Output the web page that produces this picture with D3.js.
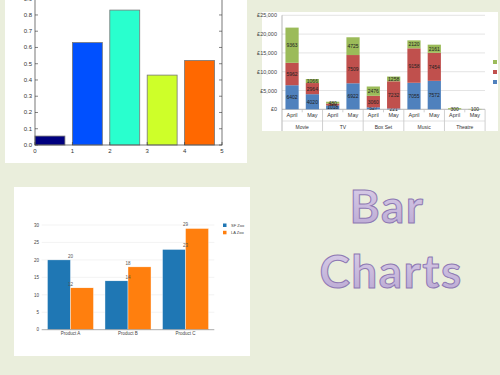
<!DOCTYPE html>
<html>
<head>
<meta charset="utf-8">
<script src="https://cdn.jsdelivr.net/npm/d3@7"></script>
<style>
  body { margin: 0; background: #eaeedc; }
  svg { display: block; font-family: "Liberation Sans", Arial, sans-serif; }
</style>
</head>
<body>
<svg width="500" height="375"></svg>
<script>
// top left: matplotlib style bars
const jetIndex = [0, 1, 2, 3, 4];
const jetValues = [0.055, 0.63, 0.83, 0.43, 0.52];
const jetColors = ['#00007f', '#0050ff', '#29ffce', '#ceff29', '#ff6800'];
const jetYTicks = [0, 0.1, 0.2, 0.3, 0.4, 0.5, 0.6, 0.7, 0.8, 0.9];
const jetXTicks = [0, 1, 2, 3, 4, 5];

// top right: excel stacked bars
const groups = ['Movie', 'TV', 'Box Set', 'Music', 'Theatre'];
const months = ['April', 'May'];
const blueVals = [6402, 4020, 1018, 6922, 527, 221, 7055, 7572, 0, 0];
const redVals = [5962, 2964, 520, 7509, 3060, 7232, 9158, 7454, 0, 0];
const greenVals = [9363, 1066, 480, 4725, 2476, 1258, 2120, 2161, 300, 100];
const poundTicks = [0, 5000, 10000, 15000, 20000, 25000];

// bottom left: plotly grouped bars
const products = ['Product A', 'Product B', 'Product C'];
const zooNames = ['SF Zoo', 'LA Zoo'];
const sfZoo = [20, 14, 23];
const laZoo = [12, 18, 29];
const zooTicks = [0, 5, 10, 15, 20, 25, 30];

const svg = d3.select('svg');

// ---------- panel 1 ----------
svg.append('rect').attr('x', 5).attr('y', 0).attr('width', 242).attr('height', 163).attr('fill', '#fff');
const g1 = svg.append('g');
const x1 = d3.scaleLinear().domain([0, 5]).range([35, 222]);
const y1 = d3.scaleLinear().domain([0, 0.9]).range([145, -1.3]);

g1.selectAll('rect.bar')
    .data(jetValues)
    .enter()
    .append('rect')
    .attr('x', (d, i) => x1(jetIndex[i]))
    .attr('width', x1(0.8) - x1(0))
    .attr('y', d => y1(d))
    .attr('height', d => y1(0) - y1(d))
    .attr('fill', (d, i) => jetColors[i])
    .attr('stroke', '#777')
    .attr('stroke-width', 0.8);

// frame
g1.append('rect')
    .attr('x', x1(0)).attr('y', y1(0.9))
    .attr('width', x1(5) - x1(0)).attr('height', y1(0) - y1(0.9))
    .attr('fill', 'none').attr('stroke', '#555').attr('stroke-width', 0.8);

jetYTicks.forEach(t => {
    g1.append('line').attr('x1', x1(0)).attr('x2', x1(0) + 3).attr('y1', y1(t)).attr('y2', y1(t)).attr('stroke', '#333').attr('stroke-width', 0.6);
    g1.append('line').attr('x1', x1(5)).attr('x2', x1(5) - 3).attr('y1', y1(t)).attr('y2', y1(t)).attr('stroke', '#333').attr('stroke-width', 0.6);
    g1.append('text').attr('x', x1(0) - 3).attr('y', y1(t) + 2)
        .attr('text-anchor', 'end').attr('font-size', 6).attr('fill', '#333')
        .text(t.toFixed(1));
});
jetXTicks.forEach(t => {
    g1.append('line').attr('x1', x1(t)).attr('x2', x1(t)).attr('y1', y1(0)).attr('y2', y1(0) - 3).attr('stroke', '#333').attr('stroke-width', 0.6);
    g1.append('text').attr('x', x1(t)).attr('y', y1(0) + 8)
        .attr('text-anchor', 'middle').attr('font-size', 6).attr('fill', '#333')
        .text(t);
});

// ---------- panel 2 ----------
svg.append('rect').attr('x', 262).attr('y', 12).attr('width', 236).attr('height', 119).attr('fill', '#fff');
const g2 = svg.append('g');
const cats = d3.range(blueVals.length);
const x2 = d3.scaleBand().domain(cats).range([282, 485]).paddingInner(0.35).paddingOuter(0.17);
const y2 = d3.scaleLinear().domain([0, 25000]).range([109.3, 15.3]);

poundTicks.forEach(t => {
    g2.append('line').attr('x1', 282).attr('x2', 485).attr('y1', y2(t)).attr('y2', y2(t))
        .attr('stroke', t === 0 ? '#999' : '#d9d9d9').attr('stroke-width', 0.7);
    g2.append('text').attr('x', 277).attr('y', y2(t) + 2)
        .attr('text-anchor', 'end').attr('font-size', 5.5).attr('fill', '#444')
        .text('£' + d3.format(',')(t));
});
g2.append('line').attr('x1', 282).attr('x2', 282).attr('y1', y2(25000)).attr('y2', 131).attr('stroke', '#999').attr('stroke-width', 0.7);

const stack = d3.stack().keys(['blue', 'red', 'green'])(
    cats.map(i => ({ blue: blueVals[i], red: redVals[i], green: greenVals[i] }))
);
const stackColors = { blue: '#4f81bd', red: '#c0504d', green: '#9bbb59' };

stack.forEach(layer => {
    g2.selectAll('rect.' + layer.key)
        .data(layer)
        .enter()
        .append('rect')
        .attr('x', (d, i) => x2(i))
        .attr('width', x2.bandwidth())
        .attr('y', d => y2(d[1]))
        .attr('height', d => y2(d[0]) - y2(d[1]))
        .attr('fill', stackColors[layer.key]);
    g2.selectAll('text.' + layer.key)
        .data(layer)
        .enter()
        .filter(d => d[1] - d[0] > 0)
        .append('text')
        .attr('x', (d, i) => x2(layer.indexOf(d)) + x2.bandwidth() / 2)
        .attr('y', d => Math.min((y2(d[0]) + y2(d[1])) / 2 + 2, y2(0) + 2))
        .attr('text-anchor', 'middle').attr('font-size', 5).attr('fill', '#222')
        .text(d => d[1] - d[0]);
});

// multi-level category axis
const step2 = x2.step();
cats.forEach(i => {
    const cx = x2(i) + x2.bandwidth() / 2;
    g2.append('text').attr('x', cx).attr('y', 117)
        .attr('text-anchor', 'middle').attr('font-size', 5.5).attr('fill', '#333')
        .text(months[i % 2]);
});
groups.forEach((gName, j) => {
    const left = x2(j * 2) - (step2 - x2.bandwidth()) / 2;
    const cx = left + step2;
    g2.append('line').attr('x1', left + 2 * step2).attr('x2', left + 2 * step2)
        .attr('y1', y2(0)).attr('y2', 131).attr('stroke', '#bbb').attr('stroke-width', 0.7);
    g2.append('line').attr('x1', left + step2).attr('x2', left + step2)
        .attr('y1', y2(0)).attr('y2', y2(0) + 3).attr('stroke', '#bbb').attr('stroke-width', 0.7);
    g2.append('text').attr('x', cx).attr('y', 129)
        .attr('text-anchor', 'middle').attr('font-size', 5).attr('fill', '#333')
        .text(gName);
});
g2.append('line').attr('x1', 282).attr('x2', 485).attr('y1', 121).attr('y2', 121).attr('stroke', '#ccc').attr('stroke-width', 0.6);

// legend (text cut off at the right edge)
['green', 'red', 'blue'].forEach((k, i) => {
    g2.append('rect').attr('x', 493).attr('y', 60 + i * 10).attr('width', 4).attr('height', 4).attr('fill', stackColors[k]);
});

// ---------- panel 3 ----------
svg.append('rect').attr('x', 14).attr('y', 187).attr('width', 236).attr('height', 169).attr('fill', '#fff');
const g3 = svg.append('g');
const x3 = d3.scaleBand().domain(products).range([41.7, 214.3]).paddingInner(0.2).paddingOuter(0.1);
const x3s = d3.scaleBand().domain(zooNames).range([0, x3.bandwidth()]);
const y3 = d3.scaleLinear().domain([0, 30]).range([329.7, 225]);
const zooColors = ['#1f77b4', '#ff7f0e'];
const zooSeries = [sfZoo, laZoo];

zooTicks.forEach(t => {
    if (t > 0) {
        g3.append('line').attr('x1', 41.7).attr('x2', 214.3).attr('y1', y3(t)).attr('y2', y3(t))
            .attr('stroke', '#eee').attr('stroke-width', 0.7);
    }
    g3.append('text').attr('x', 39).attr('y', y3(t) + 1.7)
        .attr('text-anchor', 'end').attr('font-size', 4.5).attr('fill', '#444')
        .text(t);
});

zooSeries.forEach((series, s) => {
    g3.selectAll('rect.s' + s)
        .data(series)
        .enter()
        .append('rect')
        .attr('x', (d, i) => x3(products[i]) + x3s(zooNames[s]))
        .attr('width', x3s.bandwidth())
        .attr('y', d => y3(d))
        .attr('height', d => y3(0) - y3(d))
        .attr('fill', zooColors[s])
        .attr('stroke', '#fff').attr('stroke-width', 0.4);
});
zooSeries.forEach((series, s) => {
    g3.selectAll('text.s' + s)
        .data(series)
        .enter()
        .append('text')
        .attr('x', (d, i) => x3(products[i]) + x3.bandwidth() / 2)
        .attr('y', d => y3(d) - 2)
        .attr('text-anchor', 'middle').attr('font-size', 4.5).attr('fill', '#555')
        .text(d => d);
});
g3.append('line').attr('x1', 41.7).attr('x2', 214.3).attr('y1', y3(0)).attr('y2', y3(0)).attr('stroke', '#888').attr('stroke-width', 0.7);
products.forEach(p => {
    g3.append('text').attr('x', x3(p) + x3.bandwidth() / 2).attr('y', 334.5)
        .attr('text-anchor', 'middle').attr('font-size', 4.5).attr('fill', '#444')
        .text(p);
});
zooNames.forEach((n, i) => {
    g3.append('rect').attr('x', 223).attr('y', 223.5 + i * 7.3).attr('width', 3.5).attr('height', 3.5).attr('fill', zooColors[i]);
    g3.append('text').attr('x', 231).attr('y', 226.8 + i * 7.3).attr('font-size', 4).attr('fill', '#444').text(n);
});

// ---------- title ----------
const defs = svg.append('defs');
const grad = defs.append('linearGradient').attr('id', 'purp').attr('x1', 0).attr('y1', 0).attr('x2', 0).attr('y2', 1);
grad.append('stop').attr('offset', '0%').attr('stop-color', '#ddd2ea');
grad.append('stop').attr('offset', '100%').attr('stop-color', '#b8a6d2');

[['Bar', 387, 223], ['Charts', 391, 288]].forEach(([t, x, y]) => {
    svg.append('text').attr('x', x).attr('y', y)
        .attr('text-anchor', 'middle')
        .attr('font-family', 'Lato, "Open Sans", sans-serif')
        .attr('font-size', 46).attr('font-weight', 'bold')
        .attr('fill', 'url(#purp)')
        .attr('stroke', '#8e79b3').attr('stroke-width', 1)
        .attr('letter-spacing', 1.5)
        .text(t);
});
</script>
</body>
</html>
